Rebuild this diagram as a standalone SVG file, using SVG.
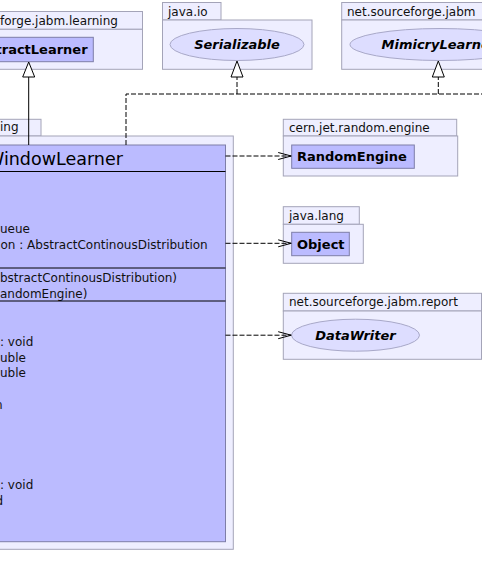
<svg xmlns="http://www.w3.org/2000/svg" width="482" height="587" viewBox="0 0 482 587">
<defs>
<style>
.pkg{fill:#eeeeff;stroke:#a4a4b8;stroke-width:1}
.cls{fill:#bbbbff;stroke:#7e7ea8;stroke-width:1}
.ifc{fill:#ddddff;stroke:#a8a8c8;stroke-width:1}
.div{stroke:#000;stroke-width:1}
.t{font-family:"DejaVu Sans",sans-serif;font-size:12px;fill:#111}
.b{font-family:"DejaVu Sans",sans-serif;font-size:13px;font-weight:bold;fill:#000}
.bi{font-family:"DejaVu Sans",sans-serif;font-size:13px;font-weight:bold;font-style:italic;fill:#000;text-anchor:middle}
.title{font-family:"DejaVu Sans",sans-serif;font-size:17.5px;fill:#000}
.dash{fill:none;stroke:#000;stroke-width:1;stroke-dasharray:5,2}
.solid{fill:none;stroke:#000;stroke-width:1}
.tri{fill:#fff;stroke:#000;stroke-width:1}
</style>
<marker id="open" markerWidth="14" markerHeight="10" refX="13" refY="5" orient="auto" markerUnits="userSpaceOnUse">
<path d="M0,1.5 L13,5 L0,8.5" fill="none" stroke="#000" stroke-width="1"/>
</marker>
</defs>

<g id="pkg-learning">
<rect class="pkg" x="-20" y="11.5" width="162.5" height="17.8"/>
<rect class="pkg" x="-20" y="29.3" width="162.5" height="40"/>
<text class="t" x="0" y="25">forge.jabm.learning</text>
</g>
<g id="AbstractLearner">
<rect class="cls" x="-20" y="37.3" width="113.3" height="24.4"/>
<text class="b" x="-4.5" y="54">tractLearner</text>
</g>

<g id="pkg-java-io">
<rect class="pkg" x="162.5" y="2.5" width="58.5" height="17.5"/>
<rect class="pkg" x="162.5" y="20" width="149.5" height="49.3"/>
<text class="t" x="168" y="15.5">java.io</text>
</g>
<g id="Serializable">
<ellipse class="ifc" cx="237" cy="44.5" rx="67" ry="16"/>
<text class="bi" x="237" y="49">Serializable</text>
</g>

<g id="pkg-jabm">
<rect class="pkg" x="341.7" y="2.5" width="160" height="17.5"/>
<rect class="pkg" x="341.7" y="20" width="160" height="49.3"/>
<text class="t" x="347" y="15.5">net.sourceforge.jabm</text>
</g>
<g id="MimicryLearner">
<ellipse class="ifc" cx="440" cy="44.5" rx="90" ry="16"/>
<text class="b" x="381.5" y="49" font-style="italic">MimicryLearne</text>
</g>

<g id="pkg-main">
<rect class="pkg" x="-20" y="119.3" width="61" height="16.7"/>
<rect class="pkg" x="-20" y="136" width="253.3" height="413.3"/>
<text class="t" x="0" y="130.7">ing</text>
</g>
<g id="WindowLearner">
<rect class="cls" x="-20" y="145" width="245.5" height="396.7"/>
<text class="title" x="-13" y="165">WindowLearner</text>
<line class="div" x1="-20" y1="171.5" x2="225.5" y2="171.5"/>
<text class="t" x="0" y="233">ueue</text>
<text class="t" x="0.5" y="248.5">on : AbstractContinousDistribution</text>
<line class="div" x1="-20" y1="268" x2="225.5" y2="268"/>
<text class="t" x="0" y="282">bstractContinousDistribution)</text>
<text class="t" x="0" y="297.5">andomEngine)</text>
<line class="div" x1="-20" y1="301" x2="225.5" y2="301"/>
<text class="t" x="0" y="345.5">: void</text>
<text class="t" x="0" y="361.5">uble</text>
<text class="t" x="0" y="377">uble</text>
<text class="t" x="-5" y="409">n</text>
<text class="t" x="0" y="489">: void</text>
<text class="t" x="-4.5" y="505">d</text>
</g>

<g id="pkg-cern">
<rect class="pkg" x="283.3" y="119.3" width="173.4" height="16.7"/>
<rect class="pkg" x="283.3" y="136" width="174.4" height="40"/>
<text class="t" x="289" y="131.7">cern.jet.random.engine</text>
</g>
<g id="RandomEngine">
<rect class="cls" x="291.7" y="145" width="122.6" height="23.3"/>
<text class="b" x="297" y="161">RandomEngine</text>
</g>

<g id="pkg-java-lang">
<rect class="pkg" x="283.3" y="206.7" width="76" height="17.6"/>
<rect class="pkg" x="283.3" y="224.3" width="80" height="39"/>
<text class="t" x="289" y="220">java.lang</text>
</g>
<g id="Object">
<rect class="cls" x="291.7" y="232.3" width="57.6" height="23.4"/>
<text class="b" x="297" y="248.5">Object</text>
</g>

<g id="pkg-report">
<rect class="pkg" x="283.3" y="293.3" width="198.2" height="17.7"/>
<rect class="pkg" x="283.3" y="311" width="198.2" height="48.3"/>
<text class="t" x="289" y="305.5">net.sourceforge.jabm.report</text>
</g>
<g id="DataWriter">
<ellipse class="ifc" cx="355.5" cy="335.2" rx="64" ry="16"/>
<text class="bi" x="355.5" y="339.5">DataWriter</text>
</g>

<g id="connectors">
<line class="solid" x1="28.7" y1="145" x2="28.7" y2="77"/>
<polygon class="tri" points="28.7,62 22.7,77 34.7,77"/>
<polyline class="dash" points="126,145 126,94 490,94"/>
<line class="dash" x1="237" y1="94" x2="237" y2="77"/>
<polygon class="tri" points="237,61 231,77 243,77"/>
<line class="dash" x1="438.3" y1="94" x2="438.3" y2="77"/>
<polygon class="tri" points="438.3,61 432.3,77 444.3,77"/>
<line class="dash" x1="225.5" y1="156" x2="291.2" y2="156" marker-end="url(#open)"/>
<line class="dash" x1="225.5" y1="243.3" x2="291.2" y2="243.3" marker-end="url(#open)"/>
<line class="dash" x1="225.5" y1="335.2" x2="291.2" y2="335.2" marker-end="url(#open)"/>
</g>
</svg>
